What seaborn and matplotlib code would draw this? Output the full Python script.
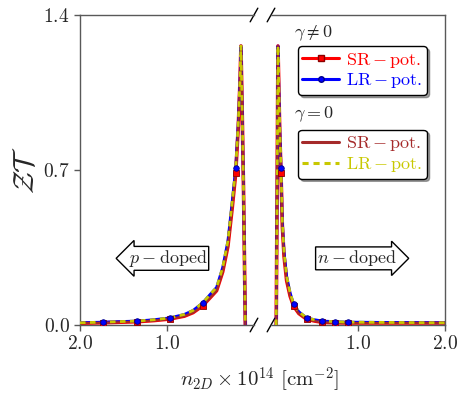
import numpy as np
import pandas as pd
import matplotlib
matplotlib.use('Agg')
import matplotlib.pyplot as plt
import seaborn as sns
from matplotlib.lines import Line2D

# ---------------- data ----------------
# p-doped branch (left panel), n in units of 1e14 cm^-2
n_p = [2.0, 1.74, 1.34, 1.15, 0.97, 0.80, 0.70, 0.59, 0.50, 0.43, 0.36, 0.30,
       0.25, 0.21, 0.18, 0.16, 0.15, 0.135, 0.12, 0.11, 0.10]
zt_lr_p = [0.010, 0.013, 0.018, 0.024, 0.032, 0.048, 0.066, 0.10, 0.14, 0.17,
           0.26, 0.38, 0.56, 0.71, 0.92, 1.12, 1.26, 0.95, 0.60, 0.30, 0.0]
zt_sr_p = [0.008, 0.010, 0.015, 0.020, 0.027, 0.040, 0.056, 0.087, 0.125, 0.155,
           0.24, 0.355, 0.53, 0.686, 0.90, 1.11, 1.26, 0.95, 0.60, 0.30, 0.0]

# n-doped branch (right panel)
n_n = [0.06, 0.07, 0.08, 0.09, 0.10, 0.115, 0.13, 0.15, 0.18, 0.22, 0.26, 0.32,
       0.41, 0.50, 0.59, 0.74, 0.89, 1.20, 1.60, 2.0]
zt_lr_n = [0.0, 0.60, 1.26, 1.08, 0.90, 0.71, 0.47, 0.33, 0.22, 0.145, 0.095,
           0.060, 0.032, 0.024, 0.018, 0.015, 0.013, 0.012, 0.011, 0.010]
zt_sr_n = [0.0, 0.60, 1.26, 1.07, 0.88, 0.686, 0.45, 0.31, 0.20, 0.13, 0.085,
           0.052, 0.026, 0.018, 0.012, 0.010, 0.009, 0.009, 0.009, 0.009]

# gamma = 0 curves lie on top of the gamma != 0 ones
zt_sr0_p, zt_lr0_p = zt_sr_p, zt_lr_p
zt_sr0_n, zt_lr0_n = zt_sr_n, zt_lr_n

# marker positions
mk_p = [1.74, 1.34, 0.97, 0.59, 0.21]
mk_lr_p = [0.013, 0.018, 0.032, 0.10, 0.71]
mk_sr_p = [0.010, 0.015, 0.027, 0.087, 0.686]
mk_n = [0.115, 0.26, 0.41, 0.59, 0.74, 0.89]
mk_lr_n = [0.71, 0.095, 0.032, 0.018, 0.015, 0.013]
mk_sr_n = [0.686, 0.085, 0.026, 0.012, 0.010, 0.009]

yticks = [0.0, 0.7, 1.4]
ytick_labels = [r'$0.0$', r'$0.7$', r'$1.4$']
xticks = [2.0, 1.0]
xtick_labels = [r'$2.0$', r'$1.0$']

labels = [r'$\mathrm{SR-pot.}$', r'$\mathrm{LR-pot.}$']
c_sr, c_lr, c_sr0, c_lr0 = '#ff0000', '#0000ff', '#a52a2a', '#c8c800'

# ---------------- style ----------------
sns.set_style('ticks')
plt.rcParams['mathtext.fontset'] = 'cm'
plt.rcParams['font.family'] = ['DejaVu Serif']

fig = plt.figure(figsize=(4.63, 3.97), dpi=100)
ax1 = fig.add_axes([80 / 463, 72 / 397, 174 / 463, 310 / 397])
ax2 = fig.add_axes([271 / 463, 72 / 397, 174 / 463, 310 / 397])

for ax, n, sr, lr, sr0, lr0, mk, msr, mlr in [
        (ax1, n_p, zt_sr_p, zt_lr_p, zt_sr0_p, zt_lr0_p, mk_p, mk_sr_p, mk_lr_p),
        (ax2, n_n, zt_sr_n, zt_lr_n, zt_sr0_n, zt_lr0_n, mk_n, mk_sr_n, mk_lr_n)]:
    sns.lineplot(x=n, y=sr, ax=ax, color=c_sr, lw=2.6, sort=False, estimator=None, zorder=2)
    sns.lineplot(x=n, y=lr, ax=ax, color=c_lr, lw=2.0, sort=False, estimator=None, zorder=3)
    sns.lineplot(x=n, y=sr0, ax=ax, color=c_sr0, lw=1.6, sort=False, estimator=None, zorder=3)
    sns.lineplot(x=n, y=lr0, ax=ax, color=c_lr0, lw=2.0, sort=False, estimator=None,
                 linestyle=(0, (2, 1.6)), zorder=4)
    sns.scatterplot(x=mk, y=msr, ax=ax, marker='s', s=16, color=c_sr,
                    edgecolor='#8b0000', linewidth=0.6, zorder=5)
    sns.scatterplot(x=mk, y=mlr, ax=ax, marker='o', s=16, color=c_lr,
                    edgecolor='#00008b', linewidth=0.6, zorder=6)
    ax.set_ylim(0, 1.4)
    for sp in ax.spines.values():
        sp.set_color('0.35')
        sp.set_linewidth(1.0)
    ax.tick_params(direction='out', length=4, width=1, color='0.35', labelsize=14)
    ax.set_xlabel('')
    ax.set_ylabel('')

ax1.set_xlim(2.0, 0.0)
ax2.set_xlim(0.0, 2.0)
ax1.spines['right'].set_visible(False)
ax2.spines['left'].set_visible(False)
ax1.set_xticks(xticks, xtick_labels)
ax2.set_xticks(xticks, xtick_labels)
ax1.set_yticks(yticks, ytick_labels)
ax2.set_yticks([])
ax1.set_ylabel(r'$\mathcal{ZT}$', fontsize=21, labelpad=2)

# break marks
d = 0.022
kw = dict(color='k', lw=1.0, clip_on=False)
ax1.plot((1 - d, 1 + d), (-d, d), transform=ax1.transAxes, **kw)
ax1.plot((1 - d, 1 + d), (1 - d, 1 + d), transform=ax1.transAxes, **kw)
ax2.plot((-d, d), (-d, d), transform=ax2.transAxes, **kw)
ax2.plot((-d, d), (1 - d, 1 + d), transform=ax2.transAxes, **kw)

# arrows
arrow_kw = dict(fc='white', ec='k', lw=1.0)
ax1.text(0.505, 0.215, r'$p-\mathrm{doped}$', transform=ax1.transAxes, fontsize=13,
         ha='center', va='center', bbox=dict(boxstyle='larrow,pad=0.08', **arrow_kw))
ax2.text(0.494, 0.215, r'$n-\mathrm{doped}$', transform=ax2.transAxes, fontsize=13,
         ha='center', va='center', bbox=dict(boxstyle='rarrow,pad=0.08', **arrow_kw))

# legends
h1 = [Line2D([], [], color=c_sr, lw=2.2, marker='s', ms=4, mec='#8b0000'),
      Line2D([], [], color=c_lr, lw=2.2, marker='o', ms=4, mec='#00008b')]
h2 = [Line2D([], [], color=c_sr0, lw=2.2),
      Line2D([], [], color=c_lr0, lw=2.2, linestyle=(0, (2, 1.6)))]
leg_kw = dict(loc='upper left', fontsize=13, frameon=True, fancybox=True, shadow=True,
              edgecolor='k', handlelength=2.0, handletextpad=0.4, borderpad=0.25,
              labelspacing=0.1, borderaxespad=0)
leg1 = ax2.legend(h1, labels, bbox_to_anchor=(0.155, 0.90), labelcolor=[c_sr, c_lr], **leg_kw)
ax2.add_artist(leg1)
leg2 = ax2.legend(h2, labels, bbox_to_anchor=(0.155, 0.63), labelcolor=[c_sr0, c_lr0], **leg_kw)
for lg in (leg1, leg2):
    lg.get_frame().set_linewidth(1.0)
ax2.text(0.13, 0.94, r'$\gamma\neq0$', transform=ax2.transAxes, fontsize=13, va='center')
ax2.text(0.13, 0.68, r'$\gamma=0$', transform=ax2.transAxes, fontsize=13, va='center')

fig.text(0.56, 0.045, r'$n_{2D}\times10^{14}\ [\mathrm{cm}^{-2}]$', fontsize=15,
         ha='center', va='center')

fig.savefig('out.png', dpi=100)
